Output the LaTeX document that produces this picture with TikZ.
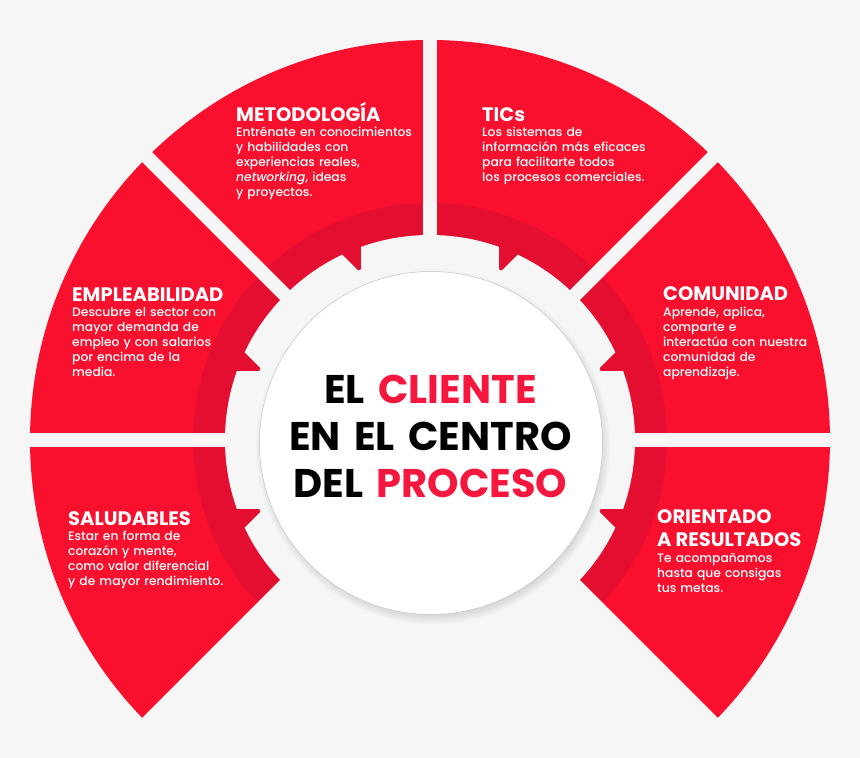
\documentclass[tikz,border=0pt]{standalone}
\usepackage{fontspec}
\setmainfont{Poppins}
\newfontfamily\pmed{Poppins Medium}
\definecolor{bgc}{HTML}{F6F6F6}
\definecolor{redA}{HTML}{F9102E}
\definecolor{redB}{HTML}{E40E30}
\definecolor{redT}{HTML}{F5173D}
\begin{document}
\begin{tikzpicture}[x=1pt,y=1pt,
  hd/.style={anchor=base west, inner sep=0pt, text=white, font=\fontsize{19.5}{15}\selectfont\bfseries},
  bd/.style={anchor=base west, inner sep=0pt, text=white, align=left, text width=230pt, font=\pmed\fontsize{12.3}{15}\selectfont},
  gapband/.style={draw=bgc, line width=14pt}]
\useasboundingbox (-430,-318) rectangle (430,440);
\fill[bgc] (-430,-318) rectangle (430,440);
% red ring
\fill[redA] (-45:400) arc[start angle=-45,end angle=225,radius=400] -- (225:170) arc[start angle=225,end angle=-45,radius=170] -- cycle;
\fill[redB] (-45:237) arc[start angle=-45,end angle=225,radius=237] -- (225:170) arc[start angle=225,end angle=-45,radius=170] -- cycle;
\foreach \a in {-45,0,45,90,135,180,225} \draw[gapband] (0,0) -- (\a:420);
% gear
\fill[bgc] (0,0) circle (184);
\foreach \a in {0,45,...,315} {
  \begin{scope}[rotate=\a]
    \clip (0,0) circle (205);
    \fill[bgc] (0,-69) rectangle (210,69);
  \end{scope}
}
% shadow
\foreach \i in {0,...,11} \fill[black, opacity=0.014] (3,-7) circle ({163+\i*1.3});
\node[circle, fill=white, draw=black!22, line width=0.5pt, minimum size=343pt, inner sep=0pt] (core) at (1,-3) {};
\node[anchor=base, align=center, text width=340pt, inner sep=0pt, font=\fontsize{40}{47}\selectfont\bfseries] (title) at (0.5,37)
  {EL \textcolor{redT}{CLIENTE}\\EN EL CENTRO\\DEL \textcolor{redT}{PROCESO}};
% texts
\node[hd] (h1) at (-194,318) {METODOLOGÍA};
\node[bd] (b1) at (-194,303) {Entrénate en conocimientos\\y habilidades con\\experiencias reales,\\\textit{networking}, ideas\\y proyectos.};
\node[hd] (h2) at (52,318) {TICs};
\node[bd] (b2) at (52,303) {Los sistemas de\\información más eficaces\\para facilitarte todos\\los procesos comerciales.};
\node[hd] (h3) at (-358,138) {EMPLEABILIDAD};
\node[bd] (b3) at (-358,123) {Descubre el sector con\\mayor demanda de\\empleo y con salarios\\por encima de la\\media.};
\node[hd] (h4) at (233,139) {COMUNIDAD};
\node[bd] (b4) at (233,123) {Aprende, aplica,\\comparte e\\interactúa con nuestra\\comunidad de\\aprendizaje.};
\node[hd] (h5) at (-362,-85) {SALUDABLES};
\node[bd] (b5) at (-362,-100) {Estar en forma de\\corazón y mente,\\como valor diferencial\\y de mayor rendimiento.};
\node[hd] (h6) at (227,-83) {ORIENTADO};
\node[hd] (h6b) at (227,-106) {A RESULTADOS};
\node[bd] (b6) at (227,-122) {Te acompañamos\\hasta que consigas\\tus metas.};
\end{tikzpicture}
\end{document}
